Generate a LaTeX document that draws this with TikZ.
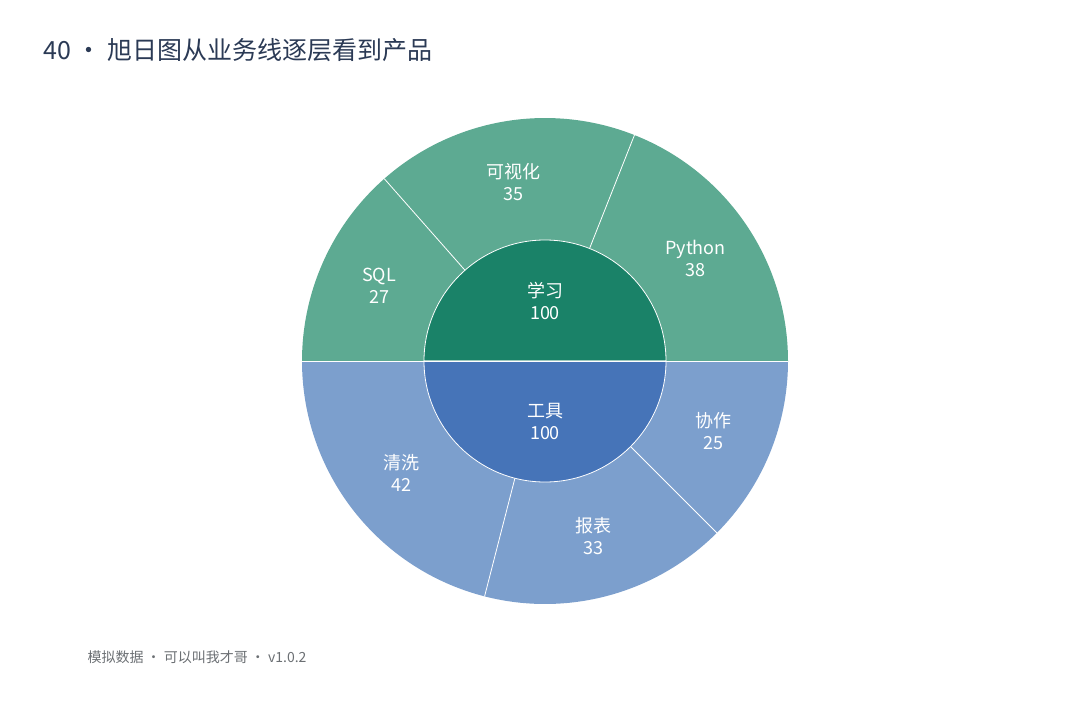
\documentclass[tikz,border=0pt]{standalone}
\usepackage{fontspec}
\setmainfont{Noto Sans CJK SC}
\usetikzlibrary{positioning,calc}
\definecolor{learnin}{HTML}{1A8268}
\definecolor{learnout}{HTML}{5DAA92}
\definecolor{toolin}{HTML}{4674B8}
\definecolor{toolout}{HTML}{7C9FCD}
\definecolor{titlec}{HTML}{2B3A55}
\definecolor{footc}{HTML}{6B6F73}
\begin{document}
\begin{tikzpicture}[x=1pt,y=-1pt,
  wedge/.style={draw=white,line width=0.8pt},
  lbl/.style={white,font=\fontsize{18}{22}\selectfont,align=center}]
  \useasboundingbox (0,0) rectangle (1080,702);
  \node[titlec,anchor=west,font=\fontsize{25}{30}\selectfont] (title) at (40,50) {40 · 旭日图从业务线逐层看到产品};
  \coordinate (c) at (545,361);
  % outer ring: start, end, colour, label
  \foreach \a/\b/\col/\txt in {180/131.4/learnout/{SQL\\27}, 131.4/68.4/learnout/{可视化\\35}, 68.4/0/learnout/{Python\\38},
      180/255.6/toolout/{清洗\\42}, 255.6/315/toolout/{报表\\33}, 315/360/toolout/{协作\\25}}{
    \fill[\col] (c) ++(\a:243 and -243) arc[start angle=\a,end angle=\b,x radius=243,y radius=-243] -- (c) -- cycle;
    \draw[wedge] (c) -- ++(\a:243 and -243);
    \node[lbl] at ($(c)+({(\a+\b)/2}:182 and -182)$) {\txt};
  }
  % inner circle
  \fill[learnin,draw=white,line width=0.8pt] (c) ++(-121,0) arc[start angle=180,end angle=0,x radius=121,y radius=-121] -- cycle;
  \fill[toolin,draw=white,line width=0.8pt] (c) ++(-121,0) arc[start angle=180,end angle=360,x radius=121,y radius=-121] -- cycle;
  \draw[wedge] (c) ++(-243,0) -- ++(486,0);
  \node[lbl] (learn) at (545,301) {学习\\100};
  \node[lbl] (tool) at (545,421) {工具\\100};
  \node[footc,anchor=west,font=\fontsize{14}{16}\selectfont] (foot) at (84,657) {模拟数据 · 可以叫我才哥 · v1.0.2};
\end{tikzpicture}
\end{document}
